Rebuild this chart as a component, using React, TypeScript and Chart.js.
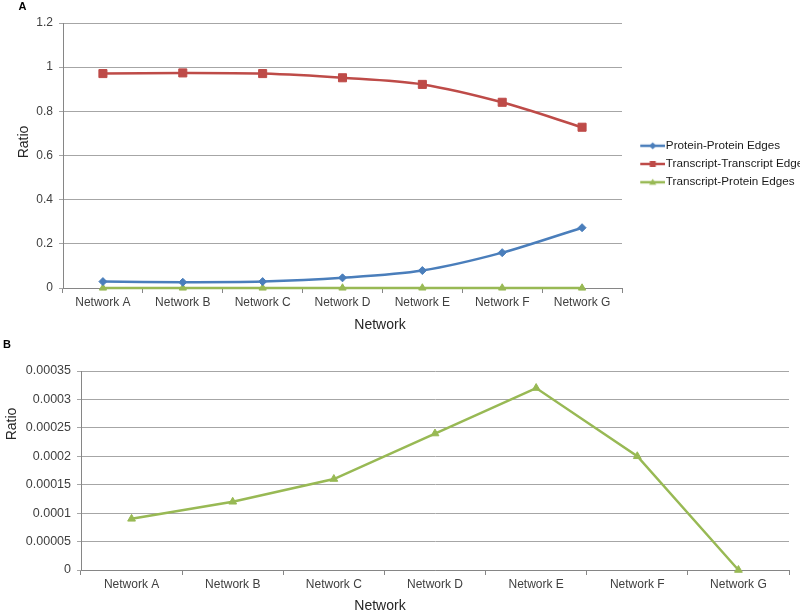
import React, { useEffect, useRef } from 'react';
import { Chart, registerables } from 'chart.js';

Chart.register(...registerables);

// ---- data ----
const networks = ['Network A', 'Network B', 'Network C', 'Network D', 'Network E', 'Network F', 'Network G'];
const seriesNames = ['Protein-Protein Edges', 'Transcript-Transcript Edges', 'Transcript-Protein Edges'];
const proteinProtein = [0.029, 0.026, 0.029, 0.046, 0.079, 0.16, 0.273];
const transcriptTranscript = [0.971, 0.974, 0.971, 0.952, 0.922, 0.841, 0.728];
const transcriptProtein = [0.00009, 0.00012, 0.00016, 0.00024, 0.00032, 0.0002, 0];
const yTicksA = ['0', '0.2', '0.4', '0.6', '0.8', '1', '1.2'];
const yTicksB = ['0', '0.00005', '0.0001', '0.00015', '0.0002', '0.00025', '0.0003', '0.00035'];

const FONT = 'Liberation Sans, Arial, sans-serif';
const BLUE = '#4A7EBB';
const RED = '#BE4B48';
const GREEN = '#98B954';
const TICK_COLOR = '#404040';
const GRID = '#a6a6a6';
const AXIS = '#868686';
const LEGEND_TEXT = '#1a1a1a';

const freeText = {
  id: 'freeText',
  afterDraw(chart: any, _args: any, opts: any) {
    const ctx = chart.ctx;
    const items = opts.items || [];
    for (const t of items) {
      ctx.save();
      ctx.font = t.font;
      ctx.fillStyle = t.color;
      ctx.textAlign = 'center';
      ctx.textBaseline = 'middle';
      ctx.translate(t.x, t.y);
      if (t.rotate) ctx.rotate(-Math.PI / 2);
      ctx.fillText(t.text, 0, 0);
      ctx.restore();
    }
  },
};

function makeIcon(color: string, style: string) {
  const c = document.createElement('canvas');
  c.width = 42;
  c.height = 10;
  const ctx = c.getContext('2d')!;
  ctx.strokeStyle = color;
  ctx.fillStyle = color;
  ctx.lineWidth = 2.5;
  ctx.beginPath();
  ctx.moveTo(17, 5);
  ctx.lineTo(42, 5);
  ctx.stroke();
  const cx = 29.5, cy = 5;
  ctx.beginPath();
  if (style === 'diamond') {
    ctx.moveTo(cx, cy - 3.5);
    ctx.lineTo(cx + 3.5, cy);
    ctx.lineTo(cx, cy + 3.5);
    ctx.lineTo(cx - 3.5, cy);
  } else if (style === 'square') {
    ctx.rect(cx - 3, cy - 3, 6, 6);
  } else {
    ctx.moveTo(cx, cy - 3.5);
    ctx.lineTo(cx + 3.5, cy + 2.5);
    ctx.lineTo(cx - 3.5, cy + 2.5);
  }
  ctx.closePath();
  ctx.fill();
  return c;
}

const tickFont = { family: FONT, size: 12 };

export default function App() {
  const refA = useRef<HTMLCanvasElement>(null);
  const refB = useRef<HTMLCanvasElement>(null);

  useEffect(() => {
    const icons = [makeIcon(BLUE, 'diamond'), makeIcon(RED, 'square'), makeIcon(GREEN, 'triangle')];

    const chartA = new Chart(refA.current!, {
      type: 'line',
      data: {
        labels: networks,
        datasets: [
          {
            label: seriesNames[0], data: proteinProtein, borderColor: BLUE, backgroundColor: BLUE,
            borderWidth: 2.5, tension: 0.3, pointStyle: 'rectRot', pointRadius: 4, pointBorderWidth: 1, clip: false,
          },
          {
            label: seriesNames[1], data: transcriptTranscript, borderColor: RED, backgroundColor: RED,
            borderWidth: 2.5, tension: 0.3, pointStyle: 'rect', pointRadius: 5.7, pointBorderWidth: 1, clip: false,
          },
          {
            label: seriesNames[2], data: transcriptProtein, borderColor: GREEN, backgroundColor: GREEN,
            borderWidth: 2.5, tension: 0.3, pointStyle: 'triangle', pointRadius: 4.2, pointBorderWidth: 1, clip: false,
          },
        ],
      } as any,
      options: {
        animation: false,
        responsive: false,
        events: [],
        layout: { padding: { top: 23, right: 0, bottom: 0, left: 0 } },
        scales: {
          x: {
            offset: true,
            grid: { offset: true, drawOnChartArea: false, drawTicks: true, tickLength: 5, color: AXIS },
            border: { color: AXIS, width: 1 },
            ticks: { font: tickFont, color: TICK_COLOR, padding: 2, maxRotation: 0, autoSkip: false },
            afterFit: (s: any) => { s.height = 47; },
          },
          y: {
            min: 0,
            max: 1.2,
            ticks: { stepSize: 0.2, callback: (_v: any, i: number) => yTicksA[i], font: tickFont, color: TICK_COLOR, padding: 6 },
            grid: { color: GRID, tickLength: 4 },
            border: { color: AXIS },
            afterFit: (s: any) => { s.width = 63; },
          },
        },
        plugins: {
          tooltip: { enabled: false },
          legend: {
            position: 'right',
            fullSize: false,
            maxWidth: 178,
            title: { display: true, text: ' ', font: { family: FONT, size: 10 }, padding: 2.5 },
            labels: {
              usePointStyle: true,
              pointStyleWidth: 31.5,
              padding: 6.5,
              font: { family: FONT, size: 11.7 },
              color: LEGEND_TEXT,
              generateLabels: (chart: any) =>
                chart.data.datasets.map((ds: any, i: number) => ({
                  text: ds.label, pointStyle: icons[i], fillStyle: 'transparent', strokeStyle: 'transparent',
                  fontColor: LEGEND_TEXT, lineWidth: 0, hidden: false, datasetIndex: i,
                })),
            },
          },
          freeText: {
            items: [
              { text: 'A', x: 22.5, y: 6.5, font: `bold 11px ${FONT}`, color: '#000' },
              { text: 'Ratio', x: 24, y: 142, rotate: true, font: `14px ${FONT}`, color: '#262626' },
              { text: 'Network', x: 380, y: 325, font: `14px ${FONT}`, color: '#262626' },
            ],
          },
        } as any,
      },
      plugins: [freeText],
    });

    const chartB = new Chart(refB.current!, {
      type: 'line',
      data: {
        labels: networks,
        datasets: [
          {
            label: seriesNames[2], data: transcriptProtein, borderColor: GREEN, backgroundColor: GREEN,
            borderWidth: 2.5, tension: 0, pointStyle: 'triangle', pointRadius: 4.5, pointBorderWidth: 1, clip: false,
          },
        ],
      } as any,
      options: {
        animation: false,
        responsive: false,
        events: [],
        layout: { padding: { top: 36, right: 11, bottom: 0, left: 0 } },
        scales: {
          x: {
            offset: true,
            grid: { offset: true, drawOnChartArea: false, drawTicks: true, tickLength: 5, color: AXIS },
            border: { color: AXIS, width: 1 },
            ticks: { font: tickFont, color: TICK_COLOR, padding: 2, maxRotation: 0, autoSkip: false },
            afterFit: (s: any) => { s.height = 44; },
          },
          y: {
            min: 0,
            max: 0.00035,
            ticks: { stepSize: 0.00005, callback: (_v: any, i: number) => yTicksB[i], font: { family: FONT, size: 12.5 }, color: TICK_COLOR, padding: 6 },
            grid: { color: GRID, tickLength: 4 },
            border: { color: AXIS },
            afterFit: (s: any) => { s.width = 81; },
          },
        },
        plugins: {
          tooltip: { enabled: false },
          legend: { display: false },
          freeText: {
            items: [
              { text: 'B', x: 7, y: 10, font: `bold 11px ${FONT}`, color: '#000' },
              { text: 'Ratio', x: 12.5, y: 89, rotate: true, font: `14px ${FONT}`, color: '#262626' },
              { text: 'Network', x: 380, y: 271, font: `14px ${FONT}`, color: '#262626' },
            ],
          },
        } as any,
      },
      plugins: [freeText],
    });

    return () => {
      chartA.destroy();
      chartB.destroy();
    };
  }, []);

  return (
    <div style={{ position: 'absolute', left: 0, top: 0, width: 800, height: 614, background: '#fff', overflow: 'hidden' }}>
      <canvas ref={refA} width={800} height={335} style={{ position: 'absolute', left: 0, top: 0, width: 800, height: 335 }} />
      <canvas ref={refB} width={800} height={279} style={{ position: 'absolute', left: 0, top: 335, width: 800, height: 279 }} />
    </div>
  );
}
